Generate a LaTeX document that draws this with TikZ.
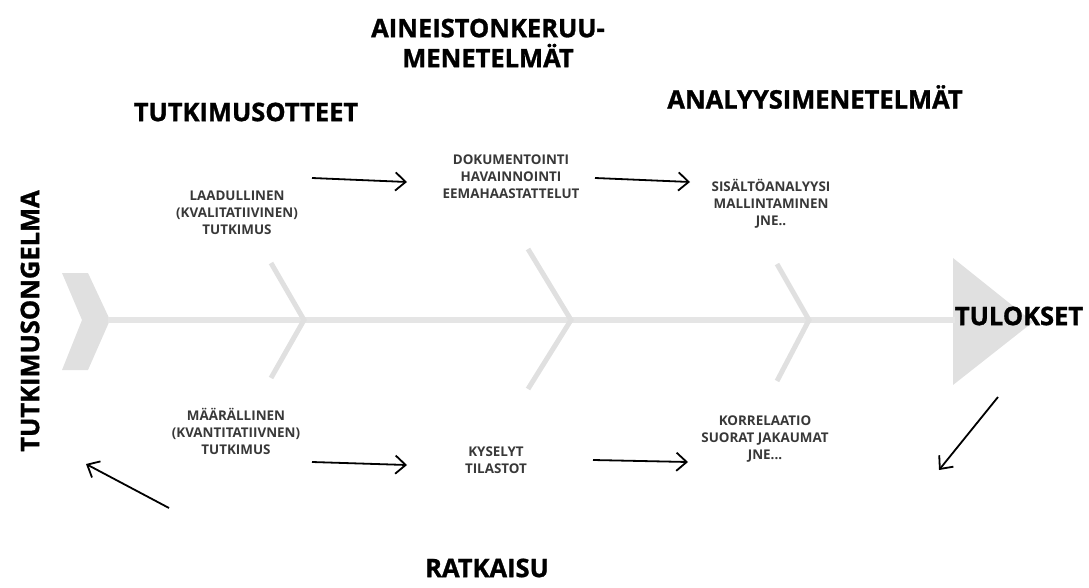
\documentclass[tikz,border=0pt]{standalone}
\usepackage{fontspec}
\setmainfont{Open Sans}
\newfontfamily\heavyfont{Open Sans}[BoldFeatures={FakeBold=1.2}]
\usetikzlibrary{arrows.meta,positioning}

\begin{document}
\begin{tikzpicture}[x=1pt,y=-1pt,
  >={Straight Barb[length=3.6mm,width=6.4mm,line width=1.8pt]},
  every node/.style={align=center,inner sep=1pt},
  heading/.style={font=\heavyfont\fontsize{25.5}{30}\selectfont\bfseries,text=black},
  method/.style={font=\fontsize{13.4}{17}\selectfont\bfseries,text=black!78},
  spine/.style={line width=6pt,draw=black!10},
  bone/.style={line width=5pt,draw=black!12},
  flow/.style={->,line width=1.8pt}]
  \useasboundingbox (0,0) rectangle (1089,588);

  % fishbone
  \fill[black!12] (62,273) -- (88,273) -- (110,320) -- (88,370)
    -- (62,370) -- (82,320) -- cycle;
  \fill[black!12] (953,258) -- (1033,322) -- (953,385) -- cycle;
  \draw[spine] (108,320) -- (955,320);
  \draw[bone] (271,263) -- (304,320) -- (271,378);
  \draw[bone] (528,249) -- (571,320) -- (528,389);
  \draw[bone] (777,264) -- (809,320) -- (777,381);

  % headings
  \node[heading] (keruu) at (488,43) {AINEISTONKERUU-\\MENETELMÄT};
  \node[heading] (otteet) at (246,112) {TUTKIMUSOTTEET};
  \node[heading] (analyysi) at (815,97) {ANALYYSIMENETELMÄT};
  \node[heading] (tulokset) at (1019,316) {TULOKSET};
  \node[heading,rotate=90] (ongelma) at (30,321) {TUTKIMUSONGELMA};
  \node[heading] (ratkaisu) at (487,568) {RATKAISU};

  % methods
  \node[method] (laad) at (237,213) {LAADULLINEN\\(KVALITATIIVINEN)\\TUTKIMUS};
  \node[method] (dok) at (511,177) {DOKUMENTOINTI\\HAVAINNOINTI\\EEMAHAASTATTELUT};
  \node[method] (sis) at (771,204) {SISÄLTÖANALYYSI\\MALLINTAMINEN\\JNE..};
  \node[method] (maar) at (236,431) {MÄÄRÄLLINEN\\(KVANTITATIIVNEN)\\TUTKIMUS};
  \node[method] (kys) at (496,460) {KYSELYT\\TILASTOT};
  \node[method] (korr) at (765,439) {KORRELAATIO\\SUORAT JAKAUMAT\\JNE...};

  % arrows
  \coordinate (laad-out) at (312,178);
  \coordinate (dok-in) at (407,182);
  \coordinate (dok-out) at (595,178);
  \coordinate (sis-in) at (690,182);
  \coordinate (maar-out) at (312,462);
  \coordinate (kys-in) at (407,465);
  \coordinate (kys-out) at (593,460);
  \coordinate (korr-in) at (688,462);
  \coordinate (tulos-out) at (998,397);
  \coordinate (tulos-in) at (939,470);
  \coordinate (ratk-out) at (169,508);
  \coordinate (ratk-in) at (86,464);
  \draw[flow] (laad-out) -- (dok-in);
  \draw[flow] (dok-out) -- (sis-in);
  \draw[flow] (maar-out) -- (kys-in);
  \draw[flow] (kys-out) -- (korr-in);
  \draw[flow] (tulos-out) -- (tulos-in);
  \draw[flow] (ratk-out) -- (ratk-in);
\end{tikzpicture}
\end{document}
